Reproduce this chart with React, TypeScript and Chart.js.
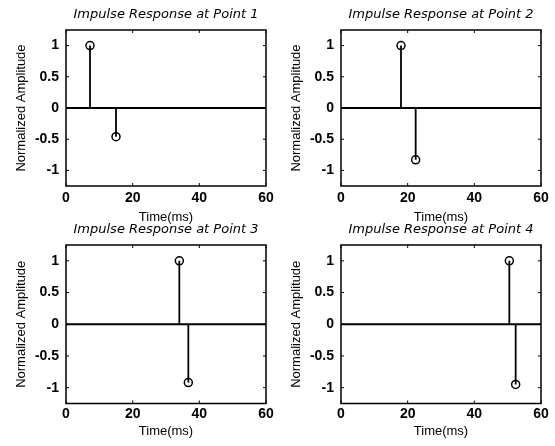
import React, { useEffect, useRef } from "react";
import { Chart, registerables } from "chart.js";

Chart.register(...registerables);

// ---- data ----
const X_TICKS = [0, 20, 40, 60];
const Y_TICKS = [-1, -0.5, 0, 0.5, 1];
const X_RANGE = [0, 60];
const Y_RANGE = [-1.25, 1.25];
const BASELINE_X = [0, 60];
const X_LABEL = "Time(ms)";
const Y_LABEL = "Normalized Amplitude";

const TITLES = [
  "Impulse Response at Point 1",
  "Impulse Response at Point 2",
  "Impulse Response at Point 3",
  "Impulse Response at Point 4",
];

const P1_TIMES = [7.2, 15];
const P1_AMPS = [1, -0.46];
const P2_TIMES = [18, 22.4];
const P2_AMPS = [1, -0.83];
const P3_TIMES = [34, 36.7];
const P3_AMPS = [1, -0.92];
const P4_TIMES = [50.5, 52.4];
const P4_AMPS = [1, -0.95];

const SERIES_TIMES = [P1_TIMES, P2_TIMES, P3_TIMES, P4_TIMES];
const SERIES_AMPS = [P1_AMPS, P2_AMPS, P3_AMPS, P4_AMPS];

// ---- layout (positions / sizes only) ----
type Panel = {
  left: number;
  top: number;
  w: number;
  h: number;
  yAxisW: number;
  padRight: number;
  titlePadTop: number;
  titlePadBottom: number;
  xAxisH: number;
  xTickPad: number;
  xTitlePadBottom: number;
};

const ROW1 = { top: 0, h: 230, titlePadTop: 7.2, titlePadBottom: 7.2, xAxisH: 44, xTickPad: 4.2, xTitlePadBottom: 5.2 };
const ROW2 = { top: 214, h: 232, titlePadTop: 7.7, titlePadBottom: 7.7, xAxisH: 42.5, xTickPad: 2.0, xTitlePadBottom: 7.2 };
const COL1 = { left: 0, w: 280, yAxisW: 66, padRight: 14 };
const COL2 = { left: 275, w: 280, yAxisW: 66, padRight: 14 };

const PANELS: Panel[] = [
  { ...COL1, ...ROW1 },
  { ...COL2, ...ROW1 },
  { ...COL1, ...ROW2 },
  { ...COL2, ...ROW2 },
];

const framePlugin = {
  id: "matlabFrame",
  afterDatasetsDraw(chart: any) {
    const { ctx, chartArea: a, scales } = chart;
    ctx.save();
    ctx.strokeStyle = "#000";
    ctx.lineWidth = 1.5;
    ctx.strokeRect(a.left, a.top, a.right - a.left, a.bottom - a.top);
    ctx.lineWidth = 1;
    const L = 3;
    const seg = (x1: number, y1: number, x2: number, y2: number) => {
      ctx.beginPath();
      ctx.moveTo(x1, y1);
      ctx.lineTo(x2, y2);
      ctx.stroke();
    };
    scales.x.ticks.forEach((t: any) => {
      const px = scales.x.getPixelForValue(t.value);
      seg(px, a.bottom, px, a.bottom - L);
      seg(px, a.top, px, a.top + L);
    });
    scales.y.ticks.forEach((t: any) => {
      const py = scales.y.getPixelForValue(t.value);
      seg(a.left, py, a.left + L, py);
      seg(a.right, py, a.right - L, py);
    });
    ctx.restore();
  },
};

function StemPanel({ index }: { index: number }) {
  const ref = useRef<HTMLCanvasElement | null>(null);
  const p = PANELS[index];

  useEffect(() => {
    if (!ref.current) return;
    const times = SERIES_TIMES[index];
    const amps = SERIES_AMPS[index];

    const datasets: any[] = [
      {
        data: BASELINE_X.map((x) => ({ x, y: 0 })),
        borderColor: "#000",
        borderWidth: 1.8,
        pointRadius: 0,
      },
    ];
    times.forEach((t, i) => {
      datasets.push({
        data: [
          { x: t, y: 0 },
          { x: t, y: amps[i] },
        ],
        borderColor: "#000",
        borderWidth: 1.8,
        pointRadius: [0, 4],
        pointBorderWidth: 1.5,
        pointBorderColor: "#000",
        pointBackgroundColor: "rgba(0,0,0,0)",
        pointStyle: "circle",
      });
    });

    const tickFont = { family: "'Liberation Sans Narrow', 'Liberation Sans', sans-serif", size: 14, weight: "bold" as const };
    const labelFont = { family: "'Liberation Sans', sans-serif", size: 13 };

    const chart = new Chart(ref.current, {
      type: "line",
      data: { datasets },
      options: {
        animation: false,
        responsive: false,
        events: [],
        layout: { padding: { left: 0, right: p.padRight, top: 0, bottom: 0 } },
        plugins: {
          legend: { display: false },
          tooltip: { enabled: false },
          title: {
            display: true,
            text: TITLES[index],
            fullSize: false,
            color: "#000",
            font: { family: "'DejaVu Sans', sans-serif", size: 13, style: "italic", weight: "normal" },
            padding: { top: p.titlePadTop, bottom: p.titlePadBottom },
          },
        },
        scales: {
          x: {
            type: "linear",
            position: "bottom",
            min: X_RANGE[0],
            max: X_RANGE[1],
            grid: { display: false, drawTicks: false },
            border: { display: false },
            afterBuildTicks: (s: any) => {
              s.ticks = X_TICKS.map((v) => ({ value: v }));
            },
            afterFit: (s: any) => {
              s.height = p.xAxisH;
            },
            ticks: {
              color: "#000",
              font: tickFont,
              padding: p.xTickPad,
              maxRotation: 0,
              autoSkip: false,
              callback: (v: any) => String(v),
            },
            title: {
              display: true,
              text: X_LABEL,
              color: "#000",
              font: labelFont,
              padding: { top: 0, bottom: p.xTitlePadBottom },
            },
          },
          y: {
            type: "linear",
            position: "left",
            min: Y_RANGE[0],
            max: Y_RANGE[1],
            grid: { display: false, drawTicks: false },
            border: { display: false },
            afterBuildTicks: (s: any) => {
              s.ticks = Y_TICKS.map((v) => ({ value: v }));
            },
            afterFit: (s: any) => {
              s.width = p.yAxisW;
            },
            ticks: {
              color: "#000",
              font: tickFont,
              padding: 7,
              autoSkip: false,
              callback: (v: any) => String(v),
            },
            title: {
              display: true,
              text: Y_LABEL,
              color: "#000",
              font: labelFont,
              padding: { top: 13.7, bottom: 0 },
            },
          },
        },
      } as any,
      plugins: [framePlugin],
    });
    return () => chart.destroy();
  }, [index]);

  return (
    <div style={{ position: "absolute", left: p.left, top: p.top, width: p.w, height: p.h }}>
      <canvas ref={ref} width={p.w} height={p.h} style={{ display: "block", width: p.w, height: p.h }} />
    </div>
  );
}

export default function App() {
  return (
    <div
      style={{
        position: "absolute",
        left: 0,
        top: 0,
        width: 555,
        height: 446,
        background: "#fff",
        overflow: "hidden",
      }}
    >
      {PANELS.map((_, i) => (
        <StemPanel key={i} index={i} />
      ))}
    </div>
  );
}
